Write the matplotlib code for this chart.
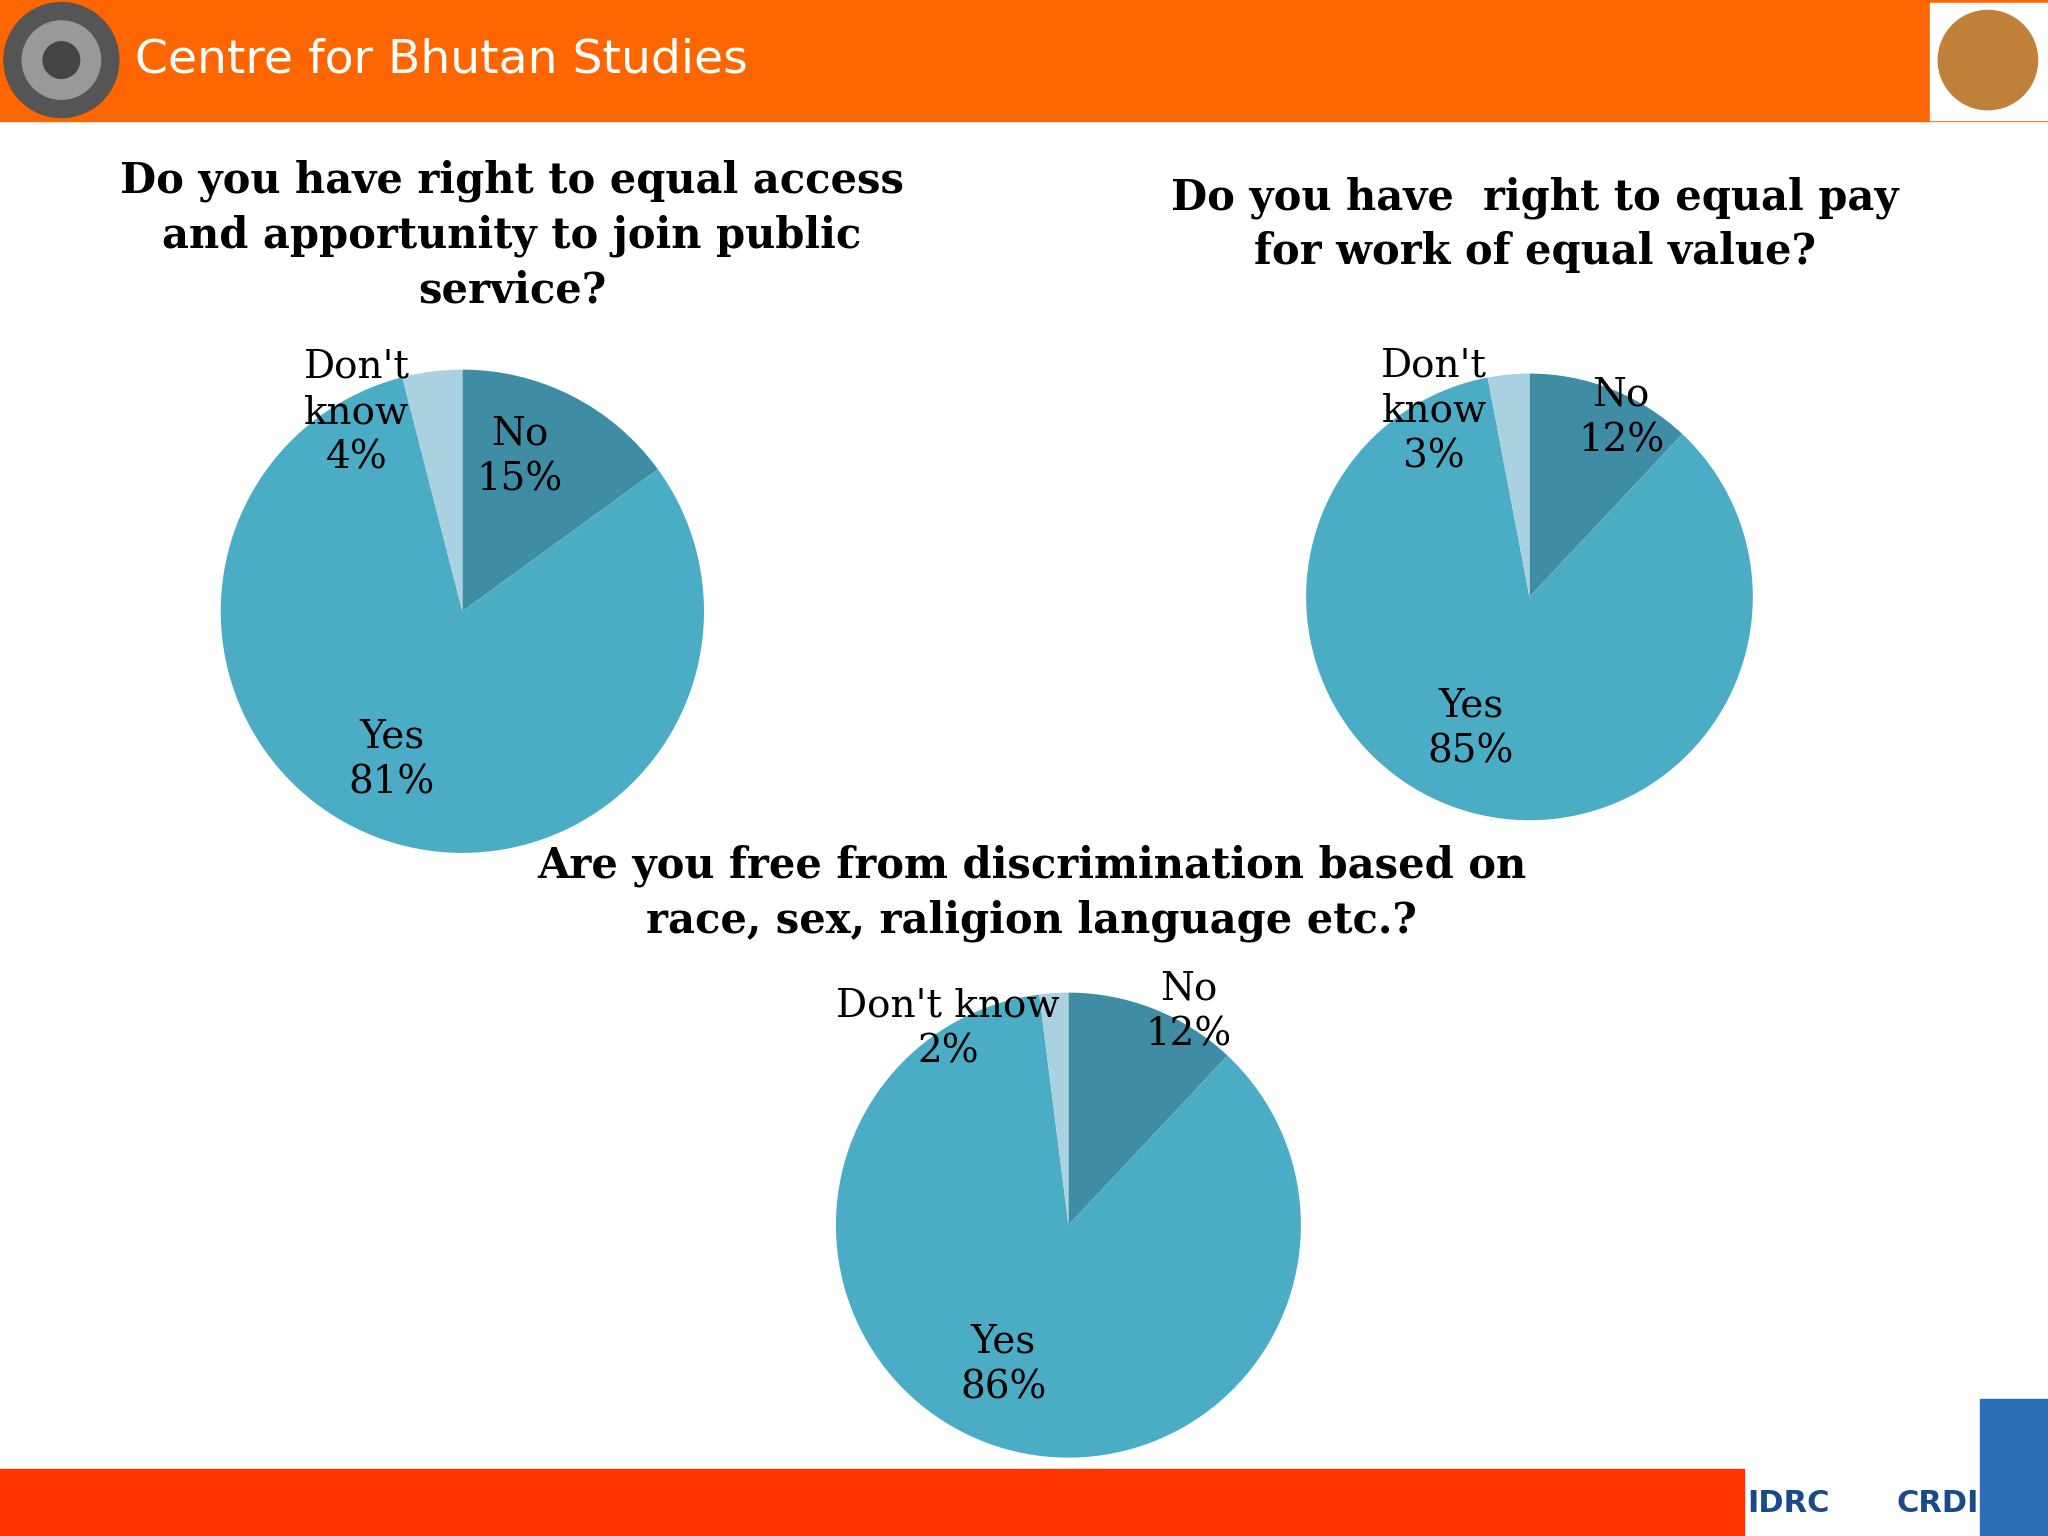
import matplotlib
matplotlib.use("Agg")
import matplotlib.pyplot as plt
from matplotlib.patches import Rectangle, Circle

# data
categories = ["No", "Yes", "Don't know"]
colors = ["#3F8CA5", "#4BACC6", "#A9D1DF"]
titles = ["Do you have right to equal access\nand apportunity to join public\nservice?",
          "Do you have  right to equal pay\nfor work of equal value?",
          "Are you free from discrimination based on\nrace, sex, raligion language etc.?"]
values1 = [15, 81, 4]
values2 = [12, 85, 3]
values3 = [12, 86, 2]
labels1 = ["No\n15%", "Yes\n81%", "Don't\nknow\n4%"]
labels2 = ["No\n12%", "Yes\n85%", "Don't\nknow\n3%"]
labels3 = ["No\n12%", "Yes\n86%", "Don't know\n2%"]

W, H = 1568, 1176
fig = plt.figure(figsize=(20.48, 15.36), dpi=100)
ax = fig.add_axes([0, 0, 1, 1])
ax.set_xlim(0, W)
ax.set_ylim(0, H)
ax.set_aspect('equal')
ax.axis('off')

serif = ['DejaVu Serif']

# header / footer
ax.add_patch(Rectangle((0, H - 93), W, 93, color='#FF6600'))
ax.add_patch(Rectangle((1478, H - 92), 90, 90, color='white'))
ax.add_patch(Circle((1522, H - 46), 38, color='#C0803A'))
ax.add_patch(Circle((47, H - 46), 44, color='#555555'))
ax.add_patch(Circle((47, H - 46), 30, color='#999999'))
ax.add_patch(Circle((47, H - 46), 14, color='#444444'))
ax.text(103, H - 46, "Centre for Bhutan Studies", color='white', fontsize=34,
        family=['DejaVu Sans'], va='center', ha='left')
ax.add_patch(Rectangle((0, 0), 1335, 51, color='#FF3300'))
ax.text(1338, 25, "IDRC", color='#1A4A8A', fontsize=22, weight='bold', va='center')
ax.text(1452, 25, "CRDI", color='#1A4A8A', fontsize=22, weight='bold', va='center')
ax.add_patch(Rectangle((1516, 0), 52, 105, color='#2A6EB8'))

pies = [
    (values1, labels1, titles[0], (392, H - 180),
     (354, H - 468), 185, [(398, H - 350), (300, H - 582), (273, H - 316)]),
    (values2, labels2, titles[1], (1175, H - 172),
     (1171, H - 457), 171, [(1241, H - 320), (1126, H - 558), (1098, H - 315)]),
    (values3, labels3, titles[2], (790, H - 684),
     (818, H - 938), 178, [(910, H - 775), (768, H - 1045), (726, H - 788)]),
]

for vals, labs, title, tpos, center, r, lpos in pies:
    ax.pie(vals, colors=colors, startangle=90, counterclock=False,
           center=center, radius=r, frame=True)
    ax.text(tpos[0], tpos[1], title, ha='center', va='center', fontsize=30,
            weight='bold', family=serif, linespacing=1.38)
    for (x, y), lab in zip(lpos, labs):
        ax.text(x, y, lab, ha='center', va='center', fontsize=28,
                family=serif, linespacing=1.3)

ax.set_xlim(0, W)
ax.set_ylim(0, H)
ax.axis('off')
fig.savefig("out.png", dpi=100, facecolor='white')
